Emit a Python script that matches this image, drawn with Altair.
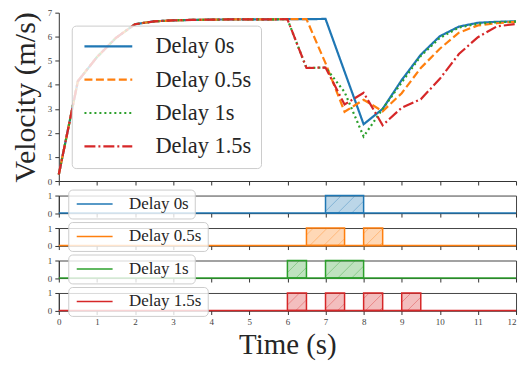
import altair as alt
import pandas as pd

# ---------------- data ----------------
t = [0, 0.5, 1, 1.5, 2, 2.5, 3, 3.5, 4, 4.5, 5, 5.5, 6, 6.5, 7, 7.5, 8, 8.5,
     9, 9.5, 10, 10.5, 11, 11.5, 12]
rise = [0.27, 4.15, 5.15, 5.95, 6.52, 6.64, 6.68, 6.70, 6.71, 6.72, 6.72, 6.72]
v_delay0 = rise + [6.73, 6.73, 6.74, 4.55, 2.36, 3.00, 4.20, 5.25, 6.02, 6.42, 6.58, 6.62, 6.64]
v_delay05 = rise + [6.73, 6.73, 4.90, 2.88, 3.38, 2.90, 3.65, 4.70, 5.50, 6.17, 6.47, 6.56, 6.62]
v_delay1 = rise + [6.73, 4.70, 4.72, 3.70, 1.85, 3.00, 4.10, 5.20, 5.95, 6.38, 6.54, 6.60, 6.63]
v_delay15 = rise + [6.73, 4.70, 4.72, 3.18, 3.67, 2.32, 3.05, 3.40, 4.25, 5.28, 5.98, 6.43, 6.53]

series_names = ["Delay 0s", "Delay 0.5s", "Delay 1s", "Delay 1.5s"]
series_values = [v_delay0, v_delay05, v_delay1, v_delay15]
colors = ["#1f77b4", "#ff7f0e", "#2ca02c", "#d62728"]
dashes = [[1, 0], [8, 3.5], [2, 3], [11, 3, 2, 3]]

# on-intervals of the signal panels
on_start = [[7], [6.5, 8], [6, 7], [6, 7, 8, 9]]
on_end = [[8], [7.5, 8.5], [6.5, 8], [6.5, 7.5, 8.5, 9.5]]

x_ticks = list(range(13))
v_ticks = list(range(8))

FONT = "Liberation Serif"
TXT = "#262626"

rows = []
for name, vals in zip(series_names, series_values):
    for ti, vi in zip(t, vals):
        rows.append({"t": ti, "v": vi, "series": name})
df = pd.DataFrame(rows)

W = 459
H_TOP = 169
H_SMALL = 17.6

common_legend = dict(
    orient="none", title=None, labelFont=FONT, labelColor=TXT,
    fillColor="rgba(255,255,255,0.8)", strokeColor="#cccccc", cornerRadius=4,
    symbolType="M-1,0H5",
)

top_legend = alt.Legend(
    legendX=13, legendY=13, labelFontSize=22.5, symbolSize=256, labelOffset=52,
    symbolStrokeWidth=2.2, padding=9.5, rowPadding=10.5, **common_legend,
)

x_axis_hidden = alt.Axis(values=x_ticks, labels=False, title=None, tickSize=4,
                         tickColor="#333", domainColor="#333", grid=False)

top = alt.Chart(df).mark_line(strokeWidth=2.2).encode(
    x=alt.X("t:Q", scale=alt.Scale(domain=[0, 12], nice=False), axis=x_axis_hidden),
    y=alt.Y("v:Q", scale=alt.Scale(domain=[0, 7], nice=False),
            axis=alt.Axis(values=v_ticks, title="Velocity (m/s)", titleFont=FONT,
                          titleFontSize=30, titleFontWeight="normal", titleColor=TXT,
                          titlePadding=7, labelFont=FONT, labelFontSize=9,
                          labelColor="#444", labelPadding=3, tickSize=4,
                          tickColor="#333", domainColor="#333", grid=False)),
    color=alt.Color("series:N", scale=alt.Scale(domain=series_names, range=colors),
                    legend=top_legend),
    strokeDash=alt.StrokeDash("series:N", scale=alt.Scale(domain=series_names, range=dashes),
                              legend=top_legend),
    order=alt.Order("order:Q"),
).transform_calculate(order="indexof(%s, datum.series)" % str(series_names)).properties(
    width=W, height=H_TOP)

# hatch geometry (style): 45 degree lines, spacing in pixels
px_per_s = W / 12.0
k = H_SMALL / px_per_s          # seconds of x-run per unit of y
spacing = 14 / px_per_s         # seconds between hatch lines


def hatch_segments(starts, ends):
    segs = []
    for s, e in zip(starts, ends):
        n0 = int((s - k) // spacing)
        n1 = int(e // spacing) + 1
        for n in range(n0, n1 + 1):
            c = n * spacing
            y_lo = max(0.0, (s - c) / k)
            y_hi = min(1.0, (e - c) / k)
            if y_hi - y_lo > 0.05:
                segs.append({"xa": c + k * y_lo, "ya": y_lo, "xb": c + k * y_hi, "yb": y_hi})
    return pd.DataFrame(segs)


smalls = []
for i, name in enumerate(series_names):
    last = i == len(series_names) - 1
    base_df = pd.DataFrame({"series": [name], "t0": [0], "t1": [12], "y": [0]})
    rect_df = pd.DataFrame({"start": on_start[i], "end": on_end[i],
                            "lo": [0] * len(on_start[i]), "hi": [1] * len(on_start[i])})
    if last:
        xa = alt.Axis(values=x_ticks, title="Time (s)", titleFont=FONT, titleFontSize=29,
                      titleFontWeight="normal", titleColor=TXT, titlePadding=4,
                      labelFont=FONT, labelFontSize=9, labelColor="#444", labelPadding=3,
                      labelAlign={"condition": {"test": "datum.value == 12", "value": "right"},
                                  "value": "center"},
                      tickSize=4, tickColor="#333", domainColor="#333", grid=False)
    else:
        xa = x_axis_hidden
    ya = alt.Axis(values=[0, 1], format="d", title=None, labelFont=FONT, labelFontSize=9,
                  labelColor="#444", labelPadding=3, tickSize=4, tickColor="#333",
                  domainColor="#333", grid=False)
    xs = alt.Scale(domain=[0, 12], nice=False)
    ys = alt.Scale(domain=[0, 1], nice=False)
    rect = alt.Chart(rect_df).mark_rect(fill=colors[i], fillOpacity=0.3, stroke=colors[i],
                                        strokeWidth=1.5).encode(
        x=alt.X("start:Q", scale=xs, axis=xa), x2="end:Q",
        y=alt.Y("lo:Q", scale=ys, axis=ya), y2="hi:Q")
    hatch = alt.Chart(hatch_segments(on_start[i], on_end[i])).mark_rule(
        color=colors[i], strokeWidth=0.8, opacity=0.45).encode(
        x=alt.X("xa:Q", scale=xs, axis=xa), x2="xb:Q",
        y=alt.Y("ya:Q", scale=ys, axis=ya), y2="yb:Q")
    small_legend = alt.Legend(legendX=9.5, legendY=-6, labelFontSize=17, symbolSize=144,
                              labelOffset=38, symbolStrokeWidth=1.5, padding=6,
                              **common_legend)
    rule = alt.Chart(base_df).mark_rule(strokeWidth=1.5).encode(
        x=alt.X("t0:Q", scale=xs, axis=xa), x2="t1:Q",
        y=alt.Y("y:Q", scale=ys, axis=ya),
        color=alt.Color("series:N", scale=alt.Scale(domain=[name], range=[colors[i]]),
                        legend=small_legend))
    layer = alt.layer(rect, hatch, rule).properties(width=W, height=H_SMALL,
                                                    view=alt.ViewBackground(stroke="#444"))
    smalls.append(layer)

chart = alt.vconcat(top, *smalls, spacing=14.6, bounds="flush").resolve_scale(
    color="independent", strokeDash="independent").resolve_legend(
    color="independent", strokeDash="independent").properties(
    padding={"left": 2, "top": 0, "right": 1, "bottom": 0}).configure_view(stroke=None)

chart.save("out.html", embed_options={"renderer": "svg", "actions": False})
